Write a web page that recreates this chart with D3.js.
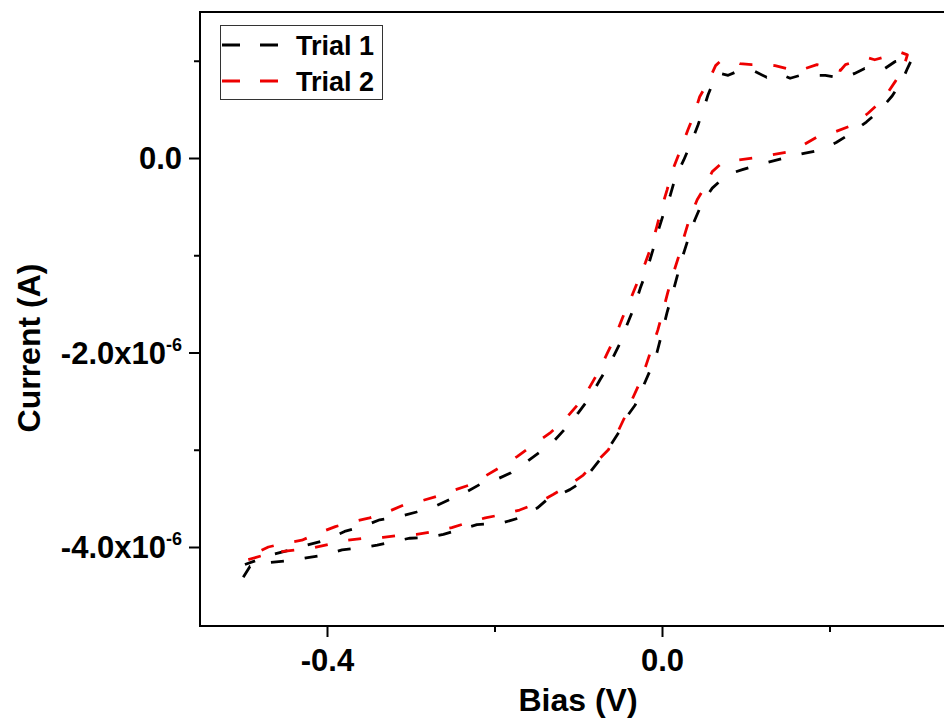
<!DOCTYPE html>
<html>
<head>
<meta charset="utf-8">
<script src="https://cdn.jsdelivr.net/npm/d3@7"></script>
<style>
  html, body { margin: 0; padding: 0; background: #fff; overflow: hidden; }
  text { font-family: "Liberation Sans", Arial, sans-serif; font-weight: bold; fill: #000; }
</style>
</head>
<body>
<div id="chart"></div>
<script>
// bias in V, current in uA (converted to A for the scale)
const biasT1 = [
  -0.500, -0.492, -0.468, -0.444, -0.423, -0.402, -0.382, -0.361, -0.340, -0.319,
  -0.301, -0.279, -0.261, -0.241, -0.221, -0.203, -0.190, -0.170, -0.149, -0.137,
  -0.122, -0.110, -0.101, -0.086, -0.074, -0.062, -0.050, -0.042, -0.032, -0.024,
  -0.014, -0.006, 0.000, 0.006, 0.012, 0.018, 0.024, 0.031, 0.039, 0.048,
  0.060, 0.078, 0.096, 0.115, 0.133, 0.150, 0.171, 0.189, 0.208, 0.227,
  0.244, 0.260, 0.275, 0.287, 0.293, 0.299,
  0.290, 0.278, 0.266, 0.252, 0.242, 0.230, 0.219, 0.209, 0.195, 0.179,
  0.165, 0.153, 0.139, 0.125, 0.111, 0.099, 0.087, 0.079, 0.069,
  0.063, 0.055, 0.049, 0.043, 0.036, 0.026, 0.016, 0.010, 0.002, -0.005,
  -0.011, -0.018, -0.026, -0.033, -0.042, -0.051, -0.062, -0.074, -0.086, -0.100,
  -0.113, -0.128, -0.142, -0.161, -0.181, -0.199, -0.214, -0.235, -0.253, -0.273,
  -0.293, -0.315, -0.337, -0.358, -0.379, -0.402, -0.424, -0.444, -0.466, -0.482,
  -0.498
]
const currentT1 = [
  -4.31, -4.20, -4.16, -4.14, -4.11, -4.08, -4.03, -4.01, -3.98, -3.94,
  -3.91, -3.90, -3.87, -3.82, -3.77, -3.76, -3.75, -3.70, -3.60, -3.51,
  -3.46, -3.41, -3.36, -3.23, -3.10, -2.96, -2.80, -2.66, -2.54, -2.38,
  -2.18, -2.00, -1.80, -1.59, -1.41, -1.22, -1.03, -0.84, -0.64, -0.46,
  -0.31, -0.17, -0.12, -0.07, -0.03, 0.01, 0.05, 0.08, 0.16, 0.26,
  0.37, 0.49, 0.64, 0.80, 0.92, 1.03,
  1.01, 0.99, 0.92, 0.90, 0.92, 0.87, 0.83, 0.83, 0.85, 0.85,
  0.85, 0.82, 0.87, 0.83, 0.89, 0.90, 0.88, 0.85, 0.87,
  0.82, 0.65, 0.49, 0.34, 0.18, -0.02, -0.20, -0.38, -0.57, -0.76,
  -0.95, -1.15, -1.34, -1.53, -1.72, -1.92, -2.11, -2.28, -2.46, -2.62,
  -2.76, -2.90, -3.00, -3.12, -3.24, -3.31, -3.34, -3.44, -3.51, -3.59,
  -3.64, -3.69, -3.72, -3.79, -3.84, -3.93, -3.98, -4.03, -4.08, -4.13,
  -4.18
]

const biasT2 = [
  -0.494, -0.478, -0.456, -0.436, -0.417, -0.396, -0.375, -0.355, -0.333, -0.313,
  -0.293, -0.271, -0.251, -0.232, -0.211, -0.193, -0.170, -0.149, -0.130, -0.112,
  -0.094, -0.079, -0.064, -0.053, -0.042, -0.035, -0.026, -0.019, -0.012, -0.005,
  0.001, 0.007, 0.013, 0.020, 0.027, 0.033, 0.042, 0.049, 0.060, 0.073,
  0.091, 0.109, 0.129, 0.149, 0.168, 0.186, 0.207, 0.228, 0.246, 0.264,
  0.278, 0.288, 0.293,
  0.284, 0.276, 0.266, 0.254, 0.246, 0.230, 0.219, 0.213, 0.204, 0.185,
  0.171, 0.159, 0.149, 0.135, 0.119, 0.107, 0.093, 0.081, 0.069,
  0.064, 0.055, 0.045, 0.038, 0.031, 0.021, 0.012, 0.006, 0.000, -0.006,
  -0.012, -0.020, -0.029, -0.038, -0.047, -0.056, -0.066, -0.076, -0.088, -0.101,
  -0.116, -0.134, -0.154, -0.173, -0.193, -0.211, -0.229, -0.250, -0.269, -0.289,
  -0.309, -0.328, -0.349, -0.369, -0.390, -0.411, -0.430, -0.450, -0.470, -0.485,
  -0.494
]
const currentT2 = [
  -4.13, -4.09, -4.05, -4.03, -4.01, -3.97, -3.93, -3.91, -3.90, -3.88,
  -3.87, -3.84, -3.80, -3.75, -3.70, -3.67, -3.62, -3.55, -3.46, -3.37,
  -3.26, -3.13, -3.00, -2.82, -2.62, -2.47, -2.30, -2.13, -1.95, -1.77,
  -1.58, -1.38, -1.20, -1.01, -0.79, -0.62, -0.43, -0.33, -0.14, -0.04,
  -0.02, 0.00, 0.03, 0.06, 0.13, 0.22, 0.27, 0.34, 0.46, 0.60,
  0.78, 0.92, 1.06,
  1.09, 1.06, 1.04, 1.01, 1.03, 0.99, 0.96, 0.90, 0.92, 0.96,
  0.92, 0.95, 0.92, 0.95, 0.96, 0.96, 0.97, 1.01, 0.99,
  0.95, 0.78, 0.63, 0.44, 0.29, 0.06, -0.14, -0.33, -0.50, -0.70,
  -0.89, -1.08, -1.27, -1.46, -1.64, -1.84, -2.02, -2.20, -2.38, -2.54,
  -2.69, -2.83, -2.95, -3.07, -3.18, -3.27, -3.36, -3.42, -3.48, -3.53,
  -3.57, -3.64, -3.70, -3.74, -3.79, -3.86, -3.93, -3.96, -4.00, -4.06,
  -4.13
]

const seriesNames = ["Trial 1", "Trial 2"]
const seriesColors = ["#000000", "#ee0000"]

const xMajor = [-0.4, 0.0]
const xMinor = [-0.2, 0.2]
const yMajor = [0, -2e-6, -4e-6]
const yMinor = [1e-6, -1e-6, -3e-6]

const width = 944
const height = 719
const plotLeft = 200, plotTop = 12, plotBottom = 626
const plotRight = 990 // frame runs past the window edge

const x = d3.scaleLinear().domain([-0.4, 0.0]).range([327, 662])
const y = d3.scaleLinear().domain([-4e-6, 0]).range([547, 158])

const svg = d3.select("#chart").append("svg")
  .attr("width", width)
  .attr("height", height)

const toPoints = (bs, cs) => bs.map((b, i) => [b, cs[i] * 1e-6])
const series = [toPoints(biasT1, currentT1), toPoints(biasT2, currentT2)]

const line = d3.line()
  .x(d => x(d[0]))
  .y(d => y(d[1]))

svg.append("g")
  .selectAll("path")
  .data(series)
  .join("path")
  .attr("d", line)
  .attr("fill", "none")
  .attr("stroke", (d, i) => seriesColors[i])
  .attr("stroke-width", 2.8)
  .attr("stroke-dasharray", "13,21")
  .attr("stroke-linejoin", "round")

// frame
svg.append("rect")
  .attr("x", plotLeft)
  .attr("y", plotTop)
  .attr("width", plotRight - plotLeft)
  .attr("height", plotBottom - plotTop)
  .attr("fill", "none")
  .attr("stroke", "#000")
  .attr("stroke-width", 2)

// x axis
const xAxis = svg.append("g").attr("transform", `translate(0,${plotBottom})`)
const xMajorG = xAxis.append("g")
  .call(d3.axisBottom(x).tickValues(xMajor).tickSize(11).tickSizeOuter(0).tickFormat(d => d.toFixed(1)))
xAxis.append("g").call(d3.axisBottom(x).tickValues(xMinor).tickSize(6).tickSizeOuter(0).tickFormat(""))
xAxis.selectAll(".domain").remove()
xAxis.selectAll("line").attr("stroke-width", 2)
xMajorG.selectAll(".tick text")
  .attr("font-family", null)
  .attr("font-size", 31)
  .attr("dy", "1.05em")
  .attr("y", 12)

// y axis
const yAxis = svg.append("g").attr("transform", `translate(${plotLeft},0)`)
yAxis.call(d3.axisLeft(y).tickValues(yMajor).tickSize(11).tickSizeOuter(0).tickFormat(""))
yAxis.append("g").call(d3.axisLeft(y).tickValues(yMinor).tickSize(6).tickSizeOuter(0).tickFormat(""))
yAxis.selectAll(".domain").remove()
yAxis.selectAll("line").attr("stroke-width", 2)

const yLabels = svg.append("g")
  .selectAll("text")
  .data(yMajor)
  .join("text")
  .attr("x", 182)
  .attr("y", d => y(d) + 11)
  .attr("text-anchor", "end")
  .attr("font-size", 31)

yLabels.each(function (d) {
  const t = d3.select(this)
  if (d === 0) {
    t.text("0.0")
  } else {
    t.append("tspan").text((d / 1e-6).toFixed(1) + "x10")
    t.append("tspan").attr("font-size", 18).attr("dy", -13).text("-6")
  }
})

// axis titles
svg.append("text")
  .attr("x", 578)
  .attr("y", 711)
  .attr("text-anchor", "middle")
  .attr("font-size", 32)
  .text("Bias (V)")

svg.append("text")
  .attr("transform", "translate(40,348) rotate(-90)")
  .attr("text-anchor", "middle")
  .attr("font-size", 32)
  .text("Current (A)")

// legend
const legend = svg.append("g")
legend.append("rect")
  .attr("x", 220.5)
  .attr("y", 25.5)
  .attr("width", 162)
  .attr("height", 74)
  .attr("fill", "#fff")
  .attr("stroke", "#333")
  .attr("stroke-width", 1)

const legendItem = legend.selectAll("g.item")
  .data(seriesNames)
  .join("g")
  .attr("class", "item")
  .attr("transform", (d, i) => `translate(0,${45 + i * 36})`)

legendItem.append("line")
  .attr("x1", 222)
  .attr("x2", 280)
  .attr("stroke", (d, i) => seriesColors[i])
  .attr("stroke-width", 3)
  .attr("stroke-dasharray", "18,20")

legendItem.append("text")
  .attr("x", 296)
  .attr("y", 10)
  .attr("font-size", 27)
  .text(d => d)
</script>
</body>
</html>
